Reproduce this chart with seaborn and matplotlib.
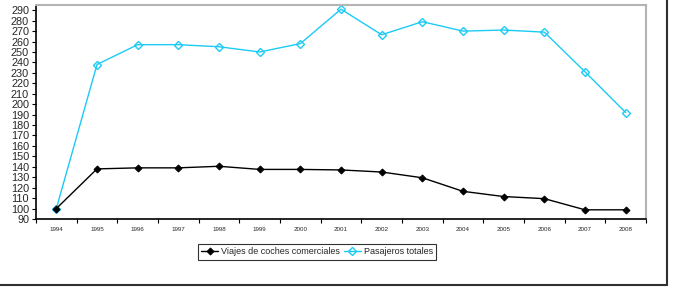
import matplotlib
matplotlib.use('Agg')
import matplotlib.pyplot as plt
import seaborn as sns
import pandas as pd
from matplotlib.lines import Line2D
from matplotlib.ticker import FixedLocator

years = ['1994', '1995', '1996', '1997', '1998', '1999', '2000', '2001',
         '2002', '2003', '2004', '2005', '2006', '2007', '2008']
viajes = [100, 138, 139, 139, 140.5, 137.5, 137.5, 137, 135, 129.5, 116.5, 111.5, 109.5, 98.8, 98.8]
pasajeros = [100, 238, 257, 257, 255, 250, 258, 291, 266.5, 279, 270, 271, 269, 231, 192]

sns.set_theme(style="white")
plt.rcParams['font.family'] = ['Liberation Sans', 'DejaVu Sans']

fig = plt.figure(figsize=(6.74, 2.9), dpi=100)
ax = fig.add_axes([36 / 674, 1 - 219 / 290, 610 / 674, 214 / 290])

df = pd.DataFrame({'year': years, 'viajes': viajes, 'pasajeros': pasajeros})
sns.lineplot(data=df, x='year', y='pasajeros', ax=ax, color='#1ccbf5', lw=1,
             marker='D', markersize=4.5, markerfacecolor='none', markeredgecolor='#1ccbf5',
             markeredgewidth=1, label='Pasajeros totales', zorder=2)
sns.lineplot(data=df, x='year', y='viajes', ax=ax, color='black', lw=1,
             marker='D', markersize=3.5, markerfacecolor='black', markeredgecolor='black',
             label='Viajes de coches comerciales', zorder=3)

ax.set_xlim(-0.5, len(years) - 0.5)
ax.set_ylim(90, 295)
ax.set_yticks(range(90, 291, 10))
ax.set_xticks(range(len(years)))
ax.set_xticklabels(years, fontsize=4.5)
ax.xaxis.set_minor_locator(FixedLocator([i - 0.5 for i in range(len(years) + 1)]))
ax.tick_params(axis='x', which='major', length=0, pad=6)
ax.tick_params(axis='x', which='minor', length=3, width=0.8, color='black', bottom=True)
ax.tick_params(axis='y', length=3, width=0.8, color='black', left=True, labelsize=7.8, pad=2)
ax.set_xlabel('')
ax.set_ylabel('')

for side in ['left', 'bottom']:
    ax.spines[side].set_color('black')
    ax.spines[side].set_linewidth(1.2)
for side in ['top', 'right']:
    ax.spines[side].set_color('#b4b4b4')
    ax.spines[side].set_linewidth(1.5)

handles, labels = ax.get_legend_handles_labels()
order = [labels.index('Viajes de coches comerciales'), labels.index('Pasajeros totales')]
leg = ax.legend([handles[i] for i in order], [labels[i] for i in order],
                loc='center', bbox_to_anchor=(317 / 674, 1 - 252 / 290),
                bbox_transform=fig.transFigure, ncol=2, fontsize=6.5, frameon=True,
                fancybox=False, edgecolor='black', handlelength=1.9, handletextpad=0.3,
                columnspacing=0.4, borderpad=0.35, borderaxespad=0)
leg.get_frame().set_linewidth(0.8)

# outer frame shadow (right and bottom)
fig.add_artist(Line2D([0, 667 / 674], [1 - 285 / 290] * 2, transform=fig.transFigure,
                      color='#303030', lw=1.5))
fig.add_artist(Line2D([667 / 674] * 2, [1 - 285 / 290, 1], transform=fig.transFigure,
                      color='#303030', lw=1.5))

fig.savefig('out.png', dpi=100, facecolor='white')
